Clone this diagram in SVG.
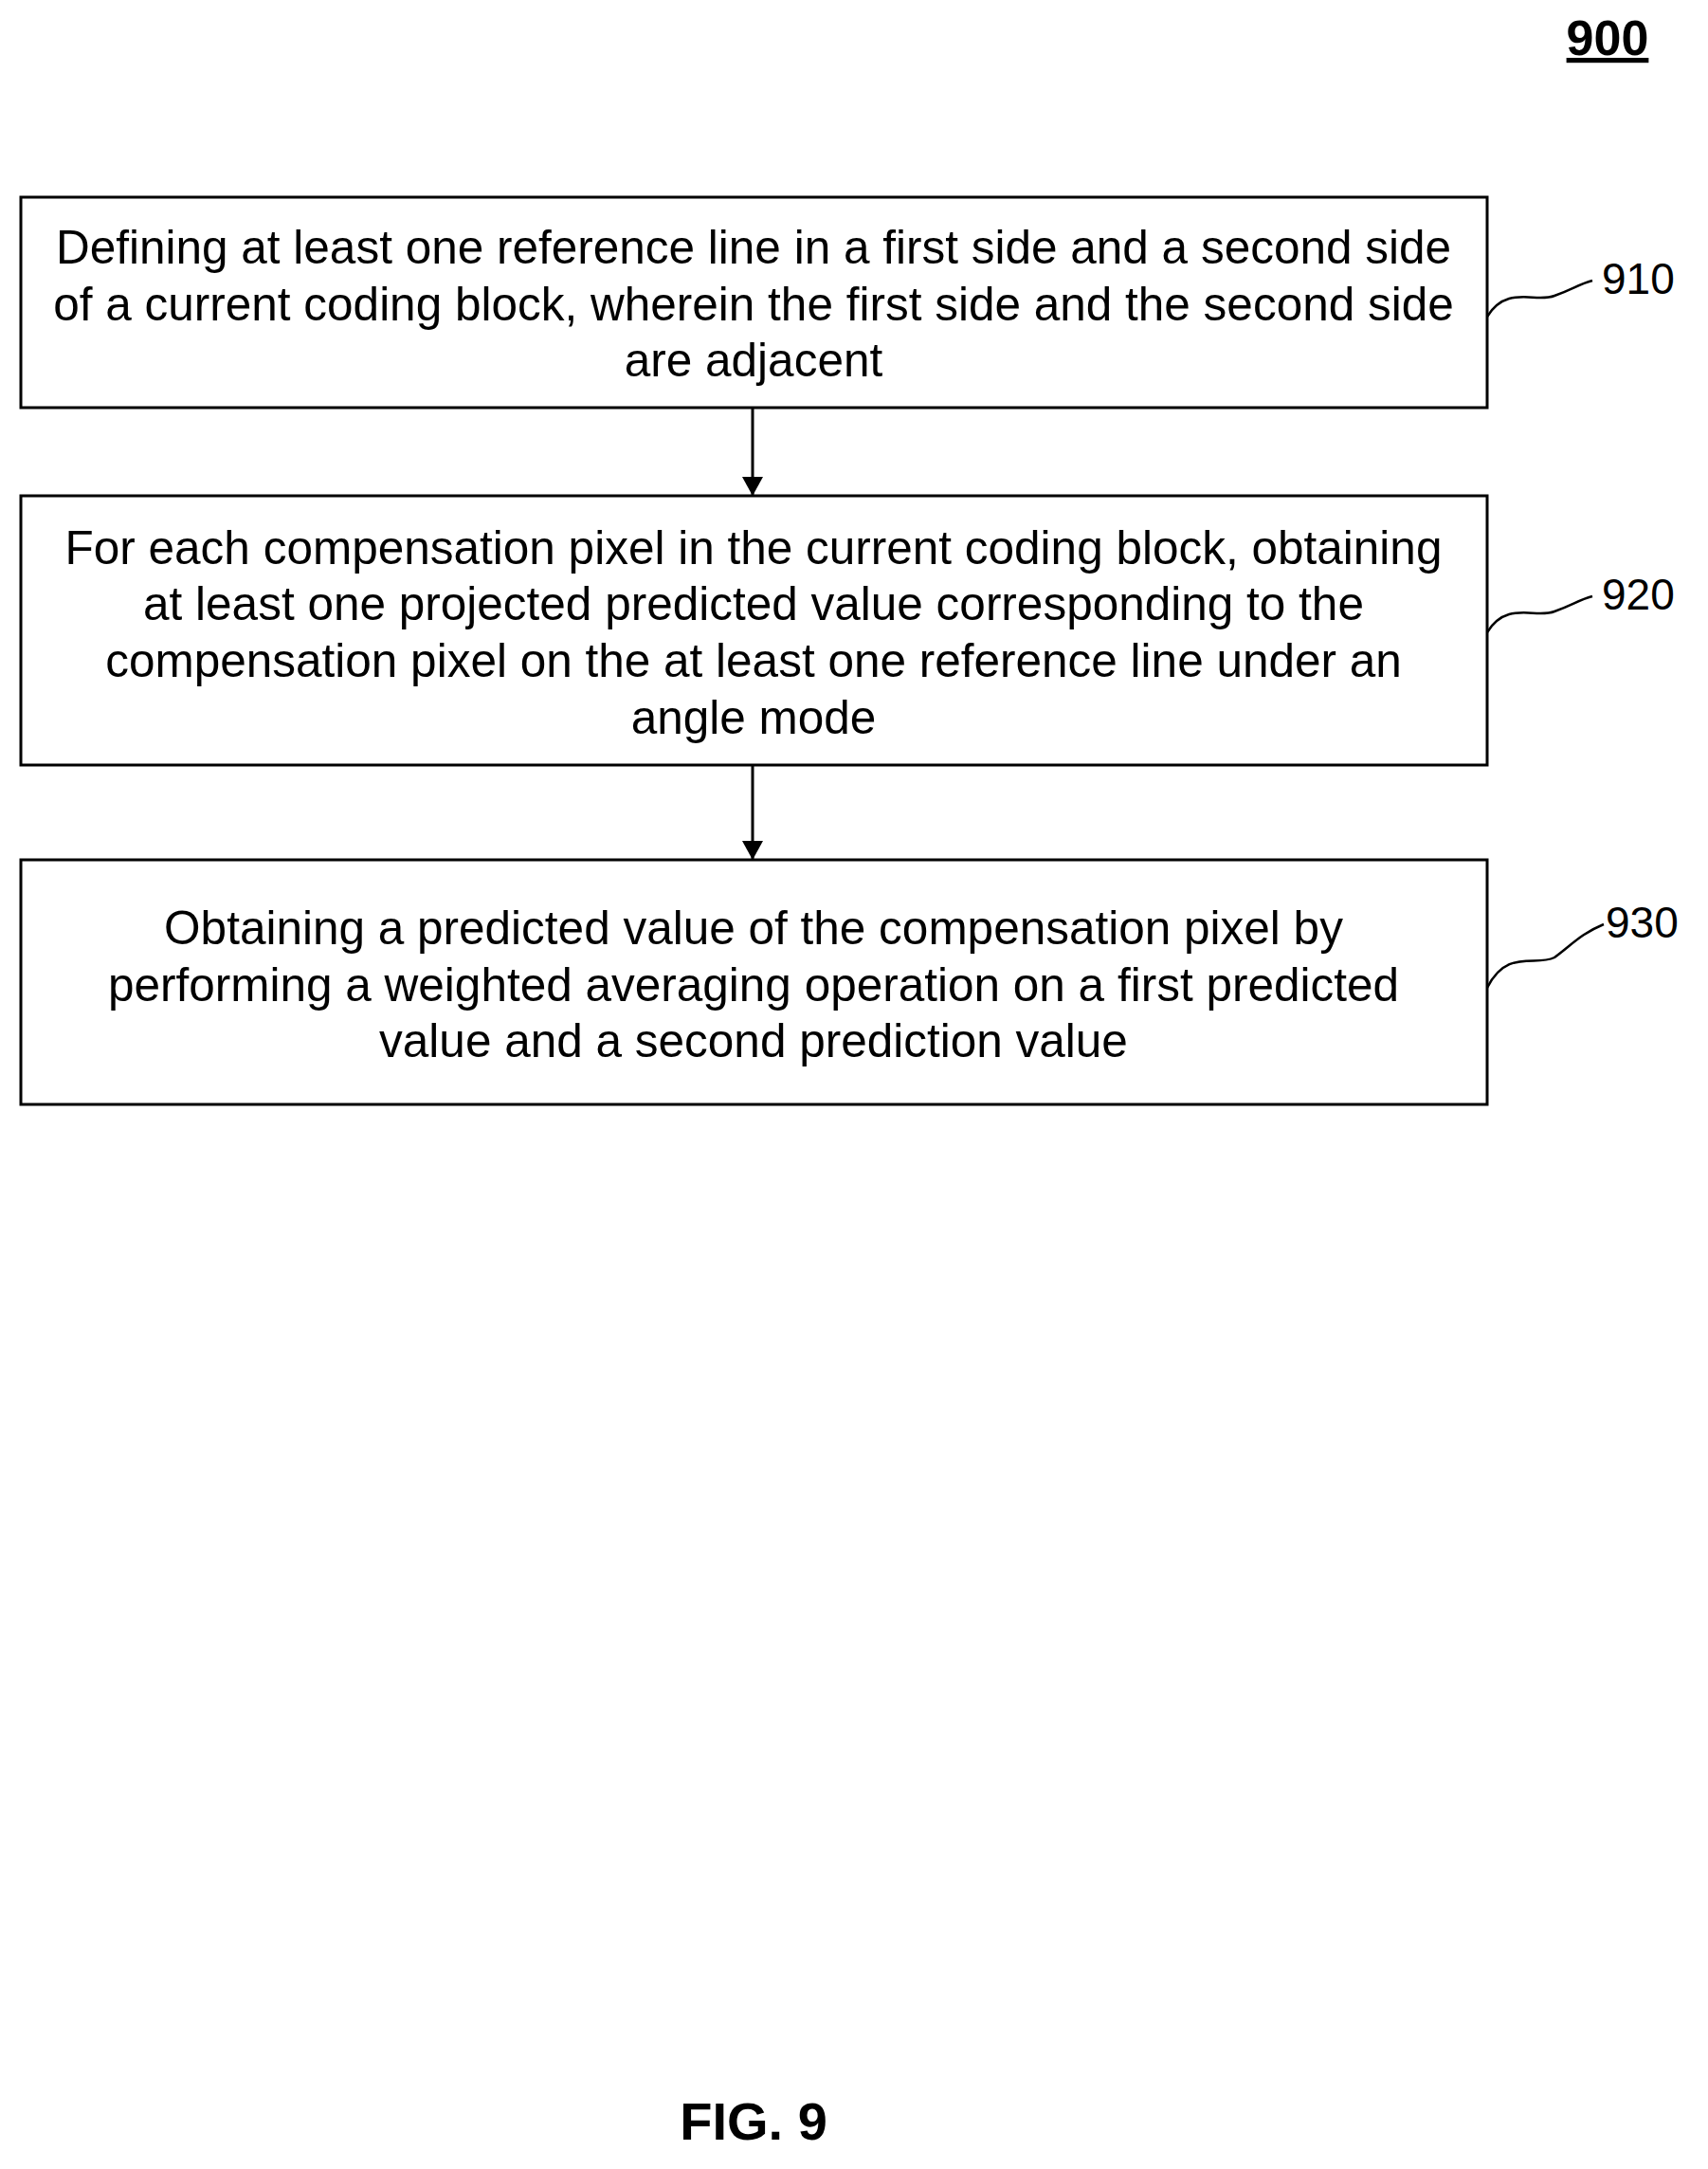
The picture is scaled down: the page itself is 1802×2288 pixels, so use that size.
<svg xmlns="http://www.w3.org/2000/svg" width="1802" height="2288" viewBox="0 0 1802 2288">
<style>
.box{fill:#fff;stroke:#000;stroke-width:3}
.t{font-family:"Liberation Sans",Arial,sans-serif;font-size:49.5px;text-anchor:middle;fill:#000}
.lbl{font-family:"Liberation Sans",Arial,sans-serif;font-size:46px;fill:#000}
.sq{fill:none;stroke:#000;stroke-width:2.5}
.c{stroke:#000;stroke-width:3;fill:none}
</style>
<defs><marker id="ah" markerWidth="20" markerHeight="22" refX="20" refY="11" orient="auto" markerUnits="userSpaceOnUse" viewBox="0 0 20 22"><path d="M0,0 L20,11 L0,22 z" fill="#000"/></marker></defs>
<rect width="1802" height="2288" fill="#fff"/>
<text x="1696" y="58" class="lbl" style="font-weight:bold;font-size:52px;text-decoration:underline" text-anchor="middle">900</text>
<g id="n910">
<rect class="box" x="22" y="208" width="1547" height="222"/>
<text class="t" x="795" y="278">Defining at least one reference line in a first side and a second side</text>
<text class="t" x="795" y="338">of a current coding block, wherein the first side and the second side</text>
<text class="t" x="795" y="397">are adjacent</text>
<path class="sq" d="M1569,334 C1590,300 1620,320 1640,312 C1660,305 1665,300 1680,296"/>
<text class="lbl" x="1690" y="310">910</text>
</g>
<g id="n920">
<rect class="box" x="22" y="523" width="1547" height="284"/>
<text class="t" x="795" y="595">For each compensation pixel in the current coding block, obtaining</text>
<text class="t" x="795" y="654">at least one projected predicted value corresponding to the</text>
<text class="t" x="795" y="714">compensation pixel on the at least one reference line under an</text>
<text class="t" x="795" y="774">angle mode</text>
<path class="sq" d="M1569,667 C1590,633 1620,653 1640,645 C1660,638 1665,633 1680,629"/>
<text class="lbl" x="1690" y="643">920</text>
</g>
<g id="n930">
<rect class="box" x="22" y="907" width="1547" height="258"/>
<text class="t" x="795" y="996">Obtaining a predicted value of the compensation pixel by</text>
<text class="t" x="795" y="1056">performing a weighted averaging operation on a first predicted</text>
<text class="t" x="795" y="1115">value and a second prediction value</text>
<path class="sq" d="M1569,1042 C1590,1000 1620,1020 1640,1010 C1660,995 1668,985 1692,975"/>
<text class="lbl" x="1694" y="989">930</text>
</g>
<g id="connectors">
<line class="c" x1="794" y1="430" x2="794" y2="523" marker-end="url(#ah)"/>
<line class="c" x1="794" y1="807" x2="794" y2="907" marker-end="url(#ah)"/>
</g>
<text x="795" y="2257" class="t" style="font-weight:bold;font-size:56px">FIG. 9</text>
</svg>
